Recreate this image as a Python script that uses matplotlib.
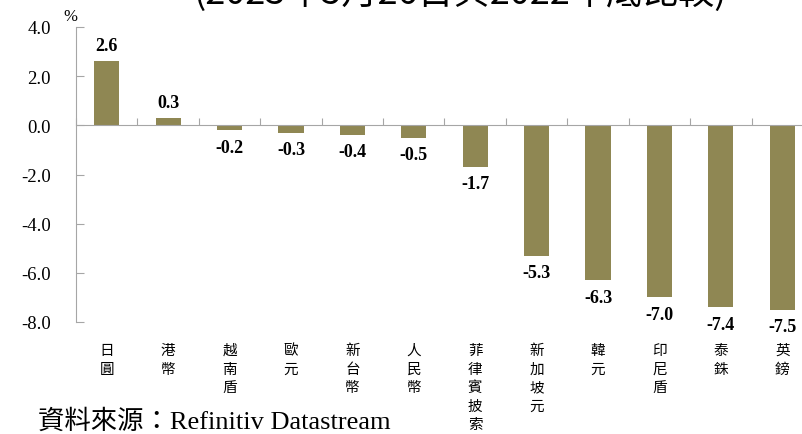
import matplotlib
matplotlib.use("Agg")
import matplotlib.pyplot as plt
from matplotlib.transforms import blended_transform_factory

# Exchange-rate change vs. USD (%)
currencies = ["日圓", "港幣", "越南盾", "歐元", "新台幣", "人民幣",
              "菲律賓披索", "新加坡元", "韓元", "印尼盾", "泰銖", "英鎊"]
changes = [2.6, 0.3, -0.2, -0.3, -0.4, -0.5, -1.7, -5.3, -6.3, -7.0, -7.4, -7.5]
yticks = [4.0, 2.0, 0.0, -2.0, -4.0, -6.0, -8.0]
title = "(2023年5月26日與2022年底比較)"
source = "資料來源：Refinitiv Datastream"

SERIF = ["Liberation Serif", "Noto Sans CJK TC"]
CJK = ["Noto Sans CJK TC", "DejaVu Sans"]
BAR = "#8F8753"
AXIS = "#A6A6A6"

W, H = 802, 435
fig = plt.figure(figsize=(W / 100, H / 100), dpi=100)
left, right, top, bottom = 76, 813, 28, 323
ax = fig.add_axes([left / W, 1 - bottom / H, (right - left) / W, (bottom - top) / H])

x = list(range(len(currencies)))
ax.bar(x, changes, width=0.41, color=BAR, zorder=2)

ax.set_xlim(-0.5, len(currencies) - 0.5)
ax.set_ylim(-8.0, 4.0)

for s in ["top", "right"]:
    ax.spines[s].set_visible(False)
ax.spines["bottom"].set_position(("data", 0))
ax.spines["bottom"].set_color(AXIS)
ax.spines["left"].set_color(AXIS)
ax.spines["bottom"].set_zorder(3)

ax.set_yticks(yticks)
ax.set_yticklabels([f"{v:.1f}" for v in yticks], family=SERIF, fontsize=13.5)
ax.tick_params(axis="y", direction="in", length=6, color=AXIS, pad=18)

ax.set_xticks([i - 0.5 for i in range(len(currencies) + 1)])
ax.set_xticklabels([])
ax.tick_params(axis="x", direction="in", length=5, color=AXIS)

# value labels
for xi, v in zip(x, changes):
    if v >= 0:
        ax.annotate(f"{v:.1f}", (xi, v), xytext=(0, 5), textcoords="offset points",
                    ha="center", va="bottom", family=SERIF, fontsize=13, fontweight="bold")
    else:
        ax.annotate(f"{v:.1f}", (xi, v), xytext=(0, -6), textcoords="offset points",
                    ha="center", va="top", family=SERIF, fontsize=13, fontweight="bold")

# vertical category labels
trans = blended_transform_factory(ax.transData, fig.transFigure)
for xi, name in zip(x, currencies):
    ax.text(xi, 1 - 344 / H, "\n".join(name), transform=trans, ha="center", va="top",
            family=CJK, fontsize=10.5, linespacing=1.42)

fig.text(70 / W, 1 - 17 / H, "%", family=SERIF, fontsize=12, ha="center", va="center")
fig.text(460 / W, 1 - 4 / H, title, family=CJK, fontsize=26, ha="center", va="baseline")
fig.text(38 / W, 1 - 422 / H, source, family=SERIF, fontsize=19, ha="left", va="center")

fig.savefig("out.png", dpi=100)
